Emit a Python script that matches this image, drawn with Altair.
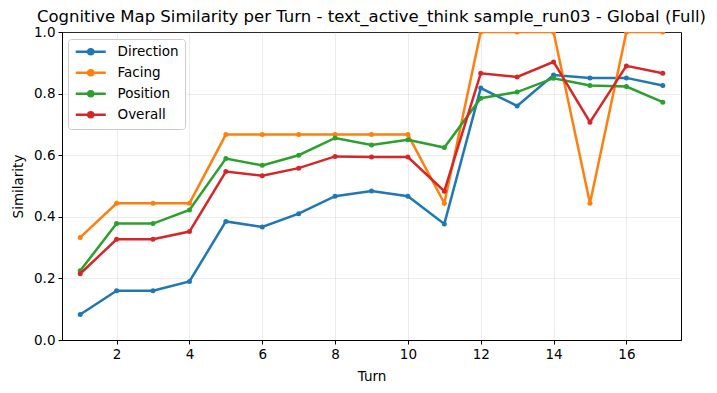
import altair as alt
import pandas as pd

turns = list(range(1, 18))
direction = [0.083, 0.16, 0.16, 0.19, 0.385, 0.367, 0.41, 0.467, 0.484, 0.467, 0.377,
             0.818, 0.76, 0.86, 0.851, 0.851, 0.826]
facing = [0.333, 0.444, 0.444, 0.444, 0.667, 0.667, 0.667, 0.667, 0.667, 0.667, 0.444,
          1.0, 1.0, 1.0, 0.444, 1.0, 1.0]
position = [0.225, 0.378, 0.378, 0.422, 0.589, 0.567, 0.6, 0.656, 0.633, 0.65, 0.625,
            0.785, 0.805, 0.85, 0.826, 0.823, 0.772]
overall = [0.215, 0.327, 0.327, 0.352, 0.547, 0.533, 0.558, 0.596, 0.594, 0.594, 0.483,
           0.866, 0.854, 0.903, 0.707, 0.89, 0.866]

series_names = ["Direction", "Facing", "Position", "Overall"]
series_vals = [direction, facing, position, overall]
colors = ["#1f77b4", "#ff7f0e", "#2ca02c", "#d62728"]

rows = []
for i, (name, vals) in enumerate(zip(series_names, series_vals)):
    for t, v in zip(turns, vals):
        rows.append({"Turn": t, "Metric": name, "Similarity": v, "k": i})
df = pd.DataFrame(rows)

FONT = "DejaVu Sans"
legend_shape = "M-1,0L5,0M1.5,0A0.5,0.5 0 1,1 2.5,0A0.5,0.5 0 1,1 1.5,0Z"

color = alt.Color(
    "Metric:N",
    scale=alt.Scale(domain=series_names, range=colors),
    sort=series_names,
    legend=alt.Legend(
        title=None, orient="none", legendX=6, legendY=7,
        symbolType=legend_shape, symbolSize=100, symbolStrokeWidth=2.5,
        labelFontSize=13.5, labelFont=FONT, labelColor="black",
        strokeColor="#cccccc", fillColor="white", cornerRadius=3, padding=6,
        rowPadding=5, labelOffset=30, labelLimit=200,
    ),
)

x = alt.X("Turn:Q", scale=alt.Scale(domain=[0.5, 17.5], nice=False, zero=False),
          axis=alt.Axis(values=[2, 4, 6, 8, 10, 12, 14, 16], format="d", title="Turn"))
y = alt.Y("Similarity:Q", scale=alt.Scale(domain=[0, 1], nice=False),
          axis=alt.Axis(values=[0, 0.2, 0.4, 0.6, 0.8, 1.0], format=".1f", title="Similarity"))

base = alt.Chart(df).encode(x=x, y=y, color=color, detail="Metric:N")

layers = []
for name in series_names:
    sub = base.transform_filter(alt.datum.Metric == name)
    layers.append(sub.mark_line(strokeWidth=2.5, clip=True))
    layers.append(sub.mark_point(filled=True, size=25, opacity=1, clip=True))

chart = alt.layer(*layers).properties(
    width=619, height=308,
    title=alt.Title(
        "Cognitive Map Similarity per Turn - text_active_think sample_run03 - Global (Full)",
        fontSize=16.5, font=FONT, fontWeight="normal", color="black", anchor="middle",
        frame="group", offset=0,
    ),
    autosize=alt.AutoSizeParams(type="none"),
    padding={"left": 54, "top": 24, "right": 28, "bottom": 45},
).configure_view(stroke="black", strokeWidth=1).configure_axis(
    labelFont=FONT, titleFont=FONT, labelFontSize=13.5, titleFontSize=13.5,
    labelColor="black", titleColor="black", titleFontWeight="normal",
    tickColor="black", domainColor="black", tickSize=4, labelPadding=3,
    gridColor="#b0b0b0", gridOpacity=0.3, gridWidth=0.8,
).configure_axisX(titlePadding=9).configure_axisY(titlePadding=8)

chart.save("out.html", embed_options={"renderer": "svg", "actions": False})
